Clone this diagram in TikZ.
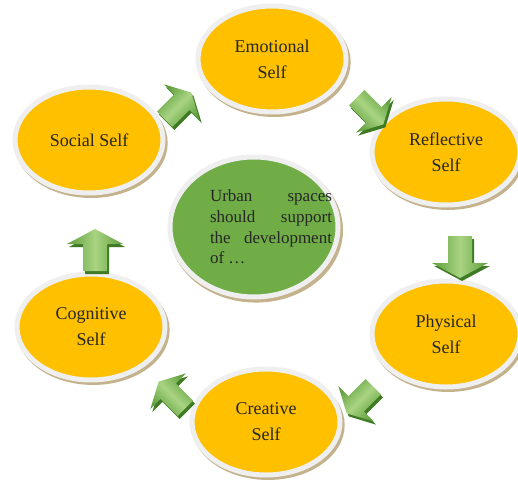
\documentclass[tikz,border=0pt]{standalone}
\usepackage{fontspec}
\setmainfont{Liberation Serif}
\usetikzlibrary{shapes.geometric,shadows}
\definecolor{selforange}{HTML}{FFC000}
\definecolor{ringgray}{HTML}{EFEFEF}
\definecolor{shadowtan}{HTML}{C4B28C}
\definecolor{centergreen}{HTML}{70AD47}
\definecolor{txtgray}{HTML}{262626}
\definecolor{arrowlight}{HTML}{A9D483}
\definecolor{arrowdark}{HTML}{5E9E3A}
\definecolor{arrowshadow}{HTML}{3F7A25}
\tikzset{
  ringell/.style={ellipse, draw=ringgray, line width=5pt, inner sep=0pt,
    drop shadow={shadow xshift=2pt, shadow yshift=-3pt, shadow scale=1.035, fill=shadowtan, opacity=1}},
  selfell/.style={ringell, fill=selforange, minimum width=148pt, minimum height=106pt,
    align=center, text=txtgray, font=\fontsize{18}{26}\selectfont},
  centerell/.style={ringell, fill=centergreen, minimum width=168pt, minimum height=140pt},
  centertxt/.style={text width=122pt, align=justify, inner sep=0pt, text=txtgray,
    font=\fontsize{17}{20.7}\selectfont},
  pics/blockarrow/.style n args={2}{code={
    \fill[arrowshadow, shift={(2,3)}, rotate=#1, scale=#2]
      (-21,-12) -- (6,-12) -- (6,-28) -- (21,0) -- (6,28) -- (6,12) -- (-21,12) -- cycle;
    \shade[top color=arrowdark, bottom color=arrowdark, middle color=arrowlight, shading angle=#1, rotate=#1, scale=#2]
      (-21,-12) -- (6,-12) -- (6,-28) -- (21,0) -- (6,28) -- (6,12) -- (-21,12) -- cycle;
  }}
}
\begin{document}
\begin{tikzpicture}[x=1pt,y=-1pt]
\useasboundingbox (0,0) rectangle (518,486);
\fill[white] (0,0) rectangle (518,486);

\node[selfell] (emo)  at (272,59)  {Emotional\\Self};
\node[selfell] (refl) at (446,152) {Reflective\\Self};
\node[selfell] (phys) at (446,334) {Physical\\Self};
\node[selfell] (crea) at (266,422) {Creative\\Self};
\node[selfell] (cogn) at (91,327)  {Cognitive\\Self};
\node[selfell] (soc)  at (89,140)  {Social Self};

\node[centerell] (center) at (254,227) {};
\node[centertxt] (centertext) at (271,227)
  {Urban spaces\linebreak should support\linebreak the development\linebreak of …};

\pic (a1) at (178,106) {blockarrow={45}{0.9}};
\pic (a2) at (370,111) {blockarrow={-45}{0.9}};
\pic (a3) at (460,257) {blockarrow={-90}{1}};
\pic (a4) at (360,400) {blockarrow={-135}{0.9}};
\pic (a5) at (172,395) {blockarrow={135}{0.9}};
\pic (a6) at (95,250)  {blockarrow={90}{1}};
\end{tikzpicture}
\end{document}
